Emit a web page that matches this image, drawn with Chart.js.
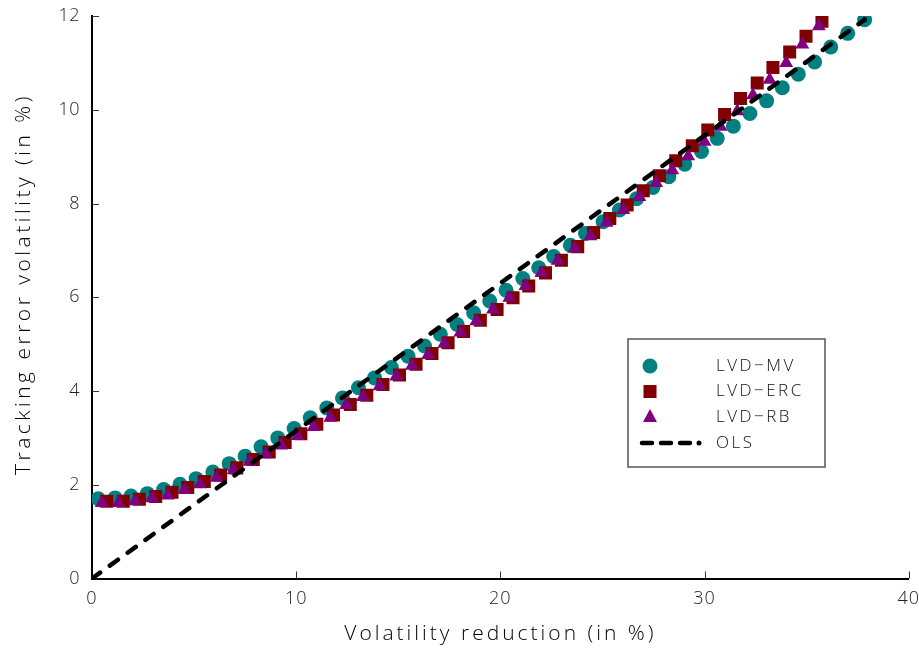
<!DOCTYPE html>
<html lang="en">
<head>
    <meta charset="UTF-8">
    <title>Tracking error volatility vs volatility reduction</title>
    <style>
        * {
            margin: 0;
            padding: 0;
            box-sizing: border-box;
        }

        body {
            background-color: white;
            width: 919px;
            height: 652px;
            overflow: hidden;
        }

        #chart {
            display: block;
        }
    </style>
</head>
<body>

    <canvas id="chart" width="919" height="652"></canvas>

    <script src="https://cdn.jsdelivr.net/npm/chart.js"></script>
    <script>
        // Values (x = volatility reduction, y = tracking error, both in %)
        const mvX = [0.31, 1.13, 1.91, 2.71, 3.51, 4.31, 5.10, 5.92, 6.72, 7.50, 8.28, 9.10, 9.90, 10.69, 11.50, 12.27,
            13.05, 13.84, 14.66, 15.48, 16.29, 17.06, 17.88, 18.69, 19.48, 20.28, 21.10, 21.88, 22.61, 23.43, 24.17,
            25.03, 25.83, 26.67, 27.47, 28.25, 29.03, 29.85, 30.62, 31.41, 32.22, 33.04, 33.81, 34.59, 35.39, 36.18,
            37.01, 37.84];
        const mvY = [1.70, 1.72, 1.76, 1.81, 1.90, 2.01, 2.13, 2.27, 2.45, 2.61, 2.81, 3.00, 3.20, 3.43, 3.64, 3.85,
            4.07, 4.28, 4.50, 4.74, 4.96, 5.21, 5.42, 5.67, 5.92, 6.15, 6.40, 6.63, 6.87, 7.11, 7.36,
            7.61, 7.86, 8.10, 8.34, 8.57, 8.84, 9.11, 9.39, 9.65, 9.92, 10.19, 10.47, 10.76, 11.02, 11.34,
            11.63, 11.92];

        const ercX = [0.72, 1.53, 2.32, 3.12, 3.92, 4.69, 5.50, 6.30, 7.09, 7.90, 8.68, 9.46, 10.23, 11.01, 11.83,
            12.65, 13.46, 14.25, 15.06, 15.87, 16.65, 17.44, 18.20, 19.02, 19.84, 20.62, 21.39, 22.21, 22.99, 23.79,
            24.57, 25.36, 26.21, 27.00, 27.79, 28.59, 29.40, 30.16, 30.98, 31.76, 32.58, 33.35, 34.17, 34.97, 35.75];
        const ercY = [1.65, 1.65, 1.69, 1.75, 1.84, 1.94, 2.07, 2.21, 2.36, 2.54, 2.70, 2.90, 3.09, 3.29, 3.49,
            3.71, 3.91, 4.14, 4.34, 4.57, 4.80, 5.03, 5.27, 5.51, 5.74, 5.99, 6.24, 6.52, 6.79, 7.08,
            7.38, 7.68, 7.97, 8.27, 8.59, 8.91, 9.23, 9.57, 9.90, 10.24, 10.57, 10.90, 11.23, 11.57, 11.89];

        const rbX = [0.48, 1.29, 2.11, 2.93, 3.71, 4.53, 5.29, 6.11, 6.93, 7.71, 8.51, 9.26, 10.06, 10.85, 11.67,
            12.45, 13.27, 14.08, 14.90, 15.67, 16.46, 17.25, 18.04, 18.82, 19.64, 20.44, 21.23, 22.01, 22.81, 23.63,
            24.41, 25.20, 26.02, 26.81, 27.63, 28.42, 29.20, 30.00, 30.78, 31.60, 32.37, 33.19, 34.00, 34.79, 35.60];
        const rbY = [1.61, 1.61, 1.65, 1.71, 1.77, 1.89, 2.01, 2.15, 2.31, 2.49, 2.65, 2.84, 3.04, 3.23, 3.43,
            3.70, 3.87, 4.10, 4.31, 4.54, 4.77, 5.01, 5.25, 5.49, 5.74, 5.99, 6.24, 6.52, 6.78, 7.04,
            7.30, 7.59, 7.86, 8.14, 8.44, 8.71, 9.01, 9.32, 9.64, 9.97, 10.31, 10.64, 11.00, 11.39, 11.78];

        // OLS fit line end points
        const olsX = [0, 37.84];
        const olsY = [0, 11.92];

        const xTicks = [0, 10, 20, 30, 40];
        const yTicks = [0, 2, 4, 6, 8, 10, 12];

        const legendLabels = ['LVD\u2212MV', 'LVD\u2212ERC', 'LVD\u2212RB', 'OLS'];
        const xTitle = 'Volatility reduction (in %)';
        const yTitle = 'Tracking error volatility (in %)';

        const TEAL = '#008080';
        const MAROON = '#800000';
        const PURPLE = '#800080';
        const FONT = '"Open Sans", sans-serif';

        function toPoints(xs, ys) {
            return xs.map(function (x, i) { return { x: x, y: ys[i] }; });
        }

        // the original uses a wide, thin plotter font
        const wideText = {
            id: 'wideText',
            beforeDraw: function (chart) {
                chart.ctx.letterSpacing = '1px';
            }
        };

        // inward tick marks, y tick labels and axis titles
        const axisDecor = {
            id: 'axisDecor',
            afterDraw: function (chart) {
                const ctx = chart.ctx;
                const xs = chart.scales.x;
                const ys = chart.scales.y;
                const area = chart.chartArea;
                ctx.save();
                ctx.strokeStyle = '#333';
                ctx.lineWidth = 1;
                ctx.beginPath();
                xTicks.forEach(function (v) {
                    if (v === 0) return;
                    const px = Math.round(xs.getPixelForValue(v)) + 0.5;
                    ctx.moveTo(px, area.bottom);
                    ctx.lineTo(px, area.bottom - 7);
                });
                yTicks.forEach(function (v) {
                    if (v === 0) return;
                    const py = Math.round(ys.getPixelForValue(v)) + 0.5;
                    ctx.moveTo(area.left, py);
                    ctx.lineTo(area.left + 7, py);
                });
                ctx.stroke();

                ctx.fillStyle = '#222';
                ctx.letterSpacing = '0.5px';
                ctx.font = '300 18px ' + FONT;
                ctx.textAlign = 'right';
                ctx.textBaseline = 'middle';
                yTicks.forEach(function (v) {
                    ctx.fillText(String(v), area.left - 12, ys.getPixelForValue(v));
                });

                ctx.fillStyle = '#000';
                ctx.font = '300 21px ' + FONT;
                ctx.textAlign = 'center';
                ctx.letterSpacing = '3px';
                ctx.fillText(xTitle, (area.left + area.right) / 2, 634);

                ctx.translate(24, 284);
                ctx.rotate(-Math.PI / 2);
                ctx.letterSpacing = '3.5px';
                ctx.fillText(yTitle, 0, 0);
                ctx.restore();
            }
        };

        // boxed legend inside the plot area
        const boxLegend = {
            id: 'boxLegend',
            afterDraw: function (chart) {
                const ctx = chart.ctx;
                const left = 628, top = 339, right = 825, bottom = 467;
                const rows = [366, 391.5, 417, 443];
                const mx = 650, tx = 716;

                ctx.save();
                ctx.fillStyle = 'white';
                ctx.fillRect(left, top, right - left, bottom - top);
                ctx.strokeStyle = '#555';
                ctx.lineWidth = 1.5;
                ctx.strokeRect(left, top, right - left, bottom - top);

                // circle
                ctx.fillStyle = TEAL;
                ctx.beginPath();
                ctx.arc(mx, rows[0], 7.5, 0, Math.PI * 2);
                ctx.fill();

                // square
                ctx.fillStyle = MAROON;
                ctx.fillRect(mx - 6.5, rows[1] - 6.5, 13, 13);

                // triangle
                ctx.fillStyle = PURPLE;
                ctx.beginPath();
                ctx.moveTo(mx, rows[2] - 8);
                ctx.lineTo(mx + 7, rows[2] + 5);
                ctx.lineTo(mx - 7, rows[2] + 5);
                ctx.closePath();
                ctx.fill();

                // dashed line
                ctx.strokeStyle = 'black';
                ctx.lineWidth = 4.5;
                ctx.lineCap = 'round';
                ctx.setLineDash([10, 9]);
                ctx.beginPath();
                ctx.moveTo(642, rows[3]);
                ctx.lineTo(692, rows[3]);
                ctx.stroke();
                ctx.setLineDash([]);
                ctx.fillStyle = 'black';
                ctx.beginPath();
                ctx.arc(699, rows[3], 2.5, 0, Math.PI * 2);
                ctx.fill();

                ctx.fillStyle = '#111';
                ctx.letterSpacing = '2.5px';
                ctx.font = '300 17px ' + FONT;
                ctx.textBaseline = 'middle';
                legendLabels.forEach(function (label, i) {
                    ctx.fillText(label, tx, rows[i]);
                });
                ctx.restore();
            }
        };

        const ctx = document.getElementById('chart').getContext('2d');
        new Chart(ctx, {
            type: 'scatter',
            data: {
                datasets: [{
                    label: 'OLS',
                    data: toPoints(olsX, olsY),
                    showLine: true,
                    borderColor: 'black',
                    borderWidth: 4.5,
                    borderDash: [10, 12],
                    borderCapStyle: 'round',
                    pointRadius: [0, 2.5],
                    pointBackgroundColor: 'black',
                    pointBorderWidth: 0,
                    order: 0
                }, {
                    label: 'LVD-RB',
                    data: toPoints(rbX, rbY),
                    pointStyle: 'triangle',
                    pointRadius: 8,
                    pointBackgroundColor: PURPLE,
                    pointBorderWidth: 0,
                    order: 1
                }, {
                    label: 'LVD-ERC',
                    data: toPoints(ercX, ercY),
                    pointStyle: 'rect',
                    pointRadius: 9.2,
                    pointBackgroundColor: MAROON,
                    pointBorderWidth: 0,
                    order: 2
                }, {
                    label: 'LVD-MV',
                    data: toPoints(mvX, mvY),
                    pointStyle: 'circle',
                    pointRadius: 7.5,
                    pointBackgroundColor: TEAL,
                    pointBorderWidth: 0,
                    order: 3
                }]
            },
            options: {
                responsive: false,
                animation: false,
                devicePixelRatio: 1,
                layout: {
                    padding: { top: 16, right: 10, left: 0, bottom: 0 }
                },
                plugins: {
                    legend: { display: false },
                    tooltip: { enabled: false }
                },
                scales: {
                    x: {
                        type: 'linear',
                        min: 0,
                        max: 40,
                        afterFit: function (scale) { scale.height = 73.5; },
                        afterBuildTicks: function (scale) {
                            scale.ticks = xTicks.map(function (v) { return { value: v }; });
                        },
                        // transparent tick marks only used as spacing before the labels
                        grid: { display: false, drawTicks: true, tickLength: 10, tickColor: 'rgba(0,0,0,0)' },
                        border: { display: true, color: 'black', width: 2 },
                        ticks: {
                            color: '#222',
                            padding: 0,
                            font: { family: FONT, size: 18, weight: '300' }
                        },
                        title: { display: false }
                    },
                    y: {
                        type: 'linear',
                        min: 0,
                        max: 12,
                        afterFit: function (scale) { scale.width = 92; },
                        afterBuildTicks: function (scale) {
                            scale.ticks = yTicks.map(function (v) { return { value: v }; });
                        },
                        grid: { display: false, drawTicks: false },
                        border: { display: true, color: 'black', width: 2 },
                        ticks: { display: false },
                        title: { display: false }
                    }
                }
            },
            plugins: [wideText, axisDecor, boxLegend]
        });
    </script>

</body>
</html>
